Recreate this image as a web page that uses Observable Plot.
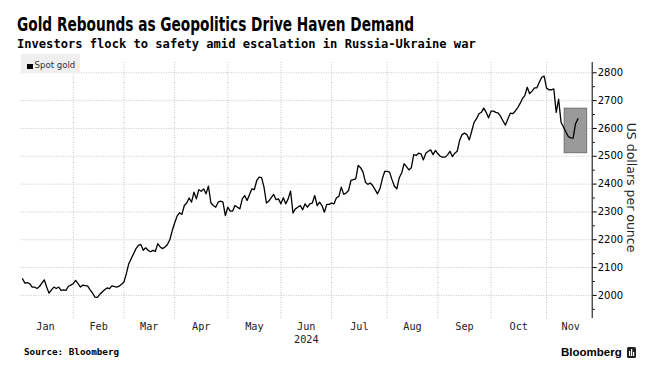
<!DOCTYPE html>
<html><head><meta charset="utf-8">
<script src="https://cdn.jsdelivr.net/npm/d3@7"></script>
<script src="https://cdn.jsdelivr.net/npm/@observablehq/plot@0.6"></script>
<style>
html,body{margin:0;padding:0;background:#fff;}
#wrap{position:relative;width:654px;height:376px;overflow:hidden;}
#titlebox{padding:13px 0 0 17px;height:22px;}
#title{display:inline-block;font:bold 19px/22px "DejaVu Sans Condensed","DejaVu Sans",sans-serif;color:#000;white-space:nowrap;transform-origin:0 50%;}
#subtitle{padding:1px 0 0 17px;height:16px;font:bold 12.1px/16px "DejaVu Sans Mono",monospace;color:#000;white-space:nowrap;}
#chart{position:relative;height:293px;}
#legend{position:absolute;left:21px;top:2px;width:59px;height:19px;background:#efefef;}
#legend .sw{position:absolute;left:6px;top:10px;width:6px;height:5px;background:#000;}
#legend .lt{position:absolute;left:13.5px;top:5px;font:8.6px/12px "DejaVu Sans",sans-serif;color:#333;}
#footer{position:relative;height:31px;}
#source{position:absolute;left:24px;top:1px;font:bold 9.3px/12px "DejaVu Sans Mono",monospace;color:#000;white-space:pre;}
#brand{position:absolute;left:561px;top:0px;font:bold 11.5px/14px "Liberation Sans",sans-serif;color:#000;}
#icon{position:absolute;left:627px;top:2px;}
</style></head>
<body>
<div id="wrap">
  <div id="titlebox"><span id="title"></span></div>
  <div id="subtitle"></div>
  <div id="chart"><div id="legend"><div class="sw"></div><div class="lt"></div></div></div>
  <div id="footer"><div id="source"></div><div id="brand"></div>
    <svg id="icon" width="9" height="11" viewBox="0 0 9 11"><rect x="0" y="0" width="9" height="11" rx="1.5" fill="#222"/><rect x="2" y="4" width="1.2" height="5" fill="#fff"/><rect x="4" y="2" width="1.2" height="7" fill="#fff"/><rect x="6" y="5" width="1.2" height="4" fill="#fff"/></svg>
  </div>
</div>
<script>
// ---- text ----
const titleText = "Gold Rebounds as Geopolitics Drive Haven Demand";
const subtitleText = "Investors flock to safety amid escalation in Russia-Ukraine war";
const seriesName = "Spot gold";
const yLabel = "US dollars per ounce";
const sourceText = "Source: Bloomberg";
const brandText = "Bloomberg";
const yearLabel = "2024";

// ---- categories / ticks ----
const months = ["Jan","Feb","Mar","Apr","May","Jun","Jul","Aug","Sep","Oct","Nov"];
const yTicks = [2000,2100,2200,2300,2400,2500,2600,2700,2800];
const yMinorTicks = [1950,2050,2150,2250,2350,2450,2550,2650,2750];

// ---- series: trading day of 2024 (weekdays since Jan 1) and spot gold price ----
const days = [2,3,4,5,6,7,8,9,11,12,13,14,15,16,17,18,19,20,21,22,23,24,25,26,27,28,29,30,31,32,33,34,35,36,37,38,39,
41,42,43,44,45,46,47,48,49,50,51,52,53,54,55,56,57,58,59,60,61,62,63,64,65,66,67,68,69,70,71,72,73,74,75,76,77,78,79,80,
81,82,83,84,85,86,87,88,89,90,91,92,93,94,95,96,97,98,99,100,101,102,103,104,105,106,107,108,109,110,111,112,113,114,115,116,117,118,119,120,
121,122,123,124,125,126,127,128,129,130,131,132,133,134,135,136,137,138,139,140,141,142,143,144,145,146,147,148,149,150,151,152,153,154,155,156,157,158,159,160,
161,162,163,164,165,166,167,168,169,170,171,172,173,174,175,176,177,178,179,180,181,182,183,184,185,186,187,188,189,190,191,192,193,194,195,196,197,198,199,200,
201,202,203,204,205,206,207,208,209,210,211,212,213,214,215,216,217,218,219,220,221,222,223,224,225,226,227,228,229,230,231,232];
const prices = [2060,2044,2046,2042,2030,2030,2025,2032,2056,2030,2008,2020,2030,2025,2030,2018,2020,2018,2033,2037,2042,2054,2042,2030,2037,2035,2033,2020,2008,1994,1993,2004,2012,2020,2027,2024,2034,
2030,2033,2040,2048,2078,2114,2132,2150,2168,2180,2183,2162,2171,2162,2157,2162,2158,2186,2174,2168,2174,2183,2200,2233,2260,2285,2297,2291,2323,2332,2350,2335,2371,2347,2380,2374,2383,2365,2393,2333,
2323,2317,2335,2339,2335,2287,2317,2303,2303,2323,2317,2311,2347,2359,2341,2363,2383,2380,2413,2425,2423,2389,2332,2339,2351,2363,2344,2347,2329,2351,2329,2347,2375,2296,2311,2317,2323,2308,2329,2317,
2329,2332,2359,2323,2335,2323,2299,2327,2327,2332,2329,2351,2356,2389,2363,2368,2377,2413,2416,2419,2467,2459,2443,2407,2399,2404,2395,2380,2365,2383,2419,2446,2446,2443,2416,2392,2383,2423,2440,2473,
2463,2451,2459,2506,2503,2511,2509,2487,2511,2518,2523,2506,2521,2509,2500,2497,2497,2505,2518,2499,2511,2518,2557,2578,2583,2578,2559,2590,2622,2635,2653,2658,2673,2658,2638,2662,2662,2658,2655,2643,
2626,2612,2635,2655,2653,2662,2674,2689,2707,2718,2748,2725,2734,2746,2746,2766,2784,2788,2745,2739,2739,2742,2658,2705,2622,2605,2587,2571,2566,2565,2617,2635];

// highlighted region (trading days, price range)
const highlightDays = [226.5, 235.8];
const highlightPrices = [2511, 2671];

// ---- build ----
const data = days.map((d, i) => ({day: d, price: prices[i]}));
const yearStart = new Date(2024, 0, 1);
// number of weekdays after Jan 1 up to and including the given date
const tday = date => d3.timeDay.range(d3.timeDay.offset(yearStart, 1), d3.timeDay.offset(date, 1))
  .filter(d => d.getDay() !== 0 && d.getDay() !== 6).length;
const bounds = d3.range(0, months.length + 1).map(i => tday(new Date(2024, i, 1)));
const monthInfo = months.map((m, i) => ({name: m, start: bounds[i], mid: (bounds[i] + bounds[i + 1]) / 2}));
const gridMonths = monthInfo.slice(1);
const xDomain = [1.5, 237.9];
const yDomain = [1917, 2837];

const titleEl = document.getElementById("title");
titleEl.textContent = titleText;
const titleTargetWidth = 397;
titleEl.style.transform = `scaleX(${titleTargetWidth / titleEl.getBoundingClientRect().width})`;
document.getElementById("subtitle").textContent = subtitleText;
document.querySelector("#legend .lt").textContent = seriesName;
document.getElementById("source").textContent = sourceText;
document.getElementById("brand").textContent = brandText;

const gridStyle = {stroke: "#c4c4c4", strokeWidth: 1, strokeDasharray: "1,1.5", strokeOpacity: 1};

const chart = Plot.plot({
  width: 654,
  height: 293,
  marginLeft: 20.8,
  marginRight: 62.3,
  marginTop: 10,
  marginBottom: 27,
  style: {fontFamily: "DejaVu Sans, sans-serif", fontSize: "10px", color: "#000", background: "#fff"},
  x: {type: "linear", domain: xDomain, axis: null},
  y: {type: "linear", domain: yDomain, axis: null},
  marks: [
    Plot.gridY(yTicks, {...gridStyle}),
    Plot.ruleX(gridMonths, {x: "start", ...gridStyle}),
    Plot.rect([{}], {x1: () => highlightDays[0], x2: () => highlightDays[1], y1: () => highlightPrices[0], y2: () => highlightPrices[1], fill: "#9a9a9a", stroke: "#707070", strokeWidth: 1}),
    Plot.line(data, {x: "day", y: "price", stroke: "#000", strokeWidth: 1.3, strokeLinejoin: "round"}),
    Plot.axisY({anchor: "right", ticks: yTicks, tickSize: 4, tickPadding: 1.5, tickFormat: d => String(d), label: null, fontSize: 10, stroke: "#000"}),
    Plot.axisY({anchor: "right", ticks: yMinorTicks, tickSize: 2, tickFormat: () => "", label: null, stroke: "#000"}),
    Plot.ruleX([xDomain[1]], {stroke: "#000", strokeWidth: 1}),
    Plot.text(monthInfo, {x: "mid", text: "name", frameAnchor: "bottom", dy: 8, lineAnchor: "middle", fontFamily: "DejaVu Sans Mono, monospace", fontSize: 10.2, fill: "#222"}),
    Plot.text([yearLabel], {x: () => monthInfo[5].mid, text: d => d, frameAnchor: "bottom", dy: 21.5, lineAnchor: "middle", fontFamily: "DejaVu Sans Mono, monospace", fontSize: 10.2, fill: "#222"}),
    Plot.text([yLabel], {text: d => d, frameAnchor: "right", textAnchor: "middle", rotate: 90, dx: 38.5, dy: -3, lineAnchor: "middle", fontSize: 12.5, fill: "#222"})
  ]
});
document.getElementById("chart").prepend(chart);
</script>
</body></html>
